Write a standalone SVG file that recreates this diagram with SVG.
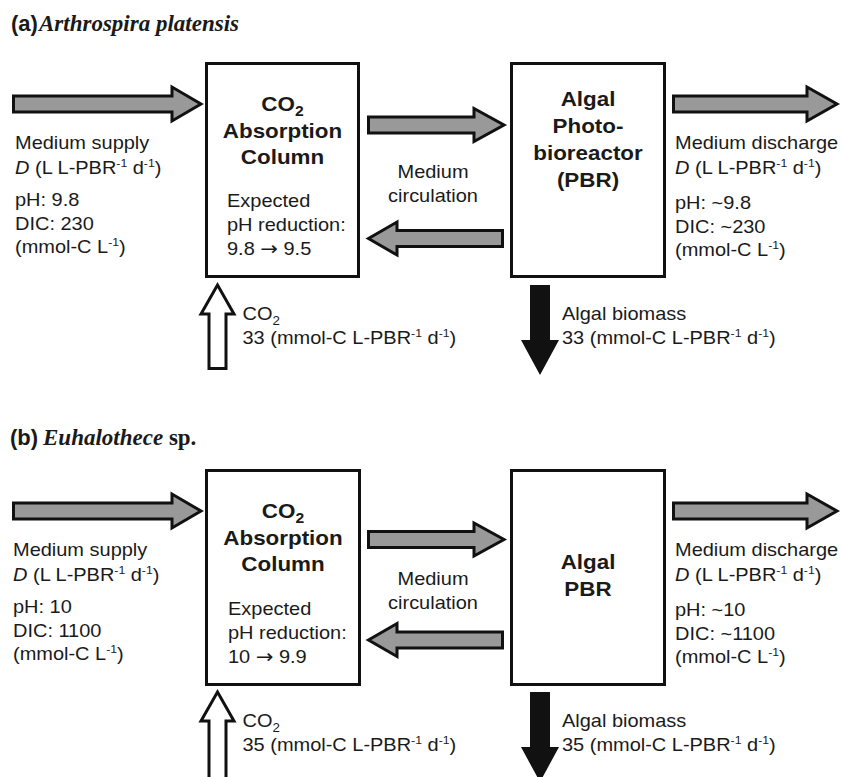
<svg xmlns="http://www.w3.org/2000/svg" width="841" height="777" viewBox="0 0 841 777">
<style>
.t{font-family:"Liberation Sans",Arial,sans-serif;font-size:18px;fill:#1a1a1a}
.b{font-weight:bold;font-size:20px}
.sup{font-size:11px}
.sub{font-size:12px}
.subb{font-size:14px}
.arr{font-family:"DejaVu Sans",sans-serif;font-size:19px}
.ttl{font-family:"Liberation Sans",Arial,sans-serif;font-weight:bold;font-size:22px;fill:#1a1a1a}
.sp{font-family:"Liberation Serif","Times New Roman",serif;font-weight:bold;font-size:23px;fill:#1a1a1a}
.box{fill:#fff;stroke:#111;stroke-width:3}
.ga{fill:#999;stroke:#111;stroke-width:3;stroke-linejoin:miter;stroke-miterlimit:10}
.wa{fill:#fff;stroke:#111;stroke-width:3;stroke-linejoin:miter;stroke-miterlimit:10}
.ba{fill:#111;stroke:none}
</style>
<rect width="841" height="777" fill="#fff"/>

<!-- Panel (a) -->
<g id="title-a">
<text class="ttl" x="11" y="31">(a)</text>
<text class="sp" x="39" y="31" font-style="italic">Arthrospira platensis</text>
</g>
<g id="connectors-a">
<polygon class="ga" points="13.5,96 172,96 172,87 201,104 172,121 172,112 13.5,112"/>
<polygon class="ga" points="368.5,117 474,117 474,108.5 504,125 474,141.5 474,133 368.5,133"/>
<polygon class="ga" points="502.5,230.5 397,230.5 397,222 368.5,238.5 397,255 397,246.5 502.5,246.5"/>
<polygon class="ga" points="673.5,96 807,96 807,87 837,104 807,121 807,112 673.5,112"/>
<polygon class="wa" points="217.5,285 234,314 226,314 226,368.5 209,368.5 209,314 201,314"/>
<polygon class="ba" points="530,285 550,285 550,340 559,340 540,375 521,340 530,340"/>
</g>
<g id="absorption-a">
<rect class="box" x="206.5" y="63.5" width="152" height="213"/>
<text class="t b" text-anchor="middle" transform="translate(282.5,111) scale(1.12,1)">CO<tspan class="subb" dy="5">2</tspan></text>
<text class="t b" text-anchor="middle" transform="translate(282.5,138) scale(1.12,1)">Absorption</text>
<text class="t b" text-anchor="middle" transform="translate(282.5,164) scale(1.12,1)">Column</text>
<text class="t" transform="translate(227,207) scale(1.11,1)">Expected</text>
<text class="t" transform="translate(227,231) scale(1.11,1)">pH reduction:</text>
<text class="t" transform="translate(227,255) scale(1.11,1)">9.8 <tspan class="arr">→</tspan> 9.5</text>
</g>
<g id="pbr-a">
<rect class="box" x="511.5" y="63.5" width="153" height="213"/>
<text class="t b" text-anchor="middle" transform="translate(588,106) scale(1.12,1)">Algal</text>
<text class="t b" text-anchor="middle" transform="translate(588,133) scale(1.12,1)">Photo-</text>
<text class="t b" text-anchor="middle" transform="translate(588,160) scale(1.12,1)">bioreactor</text>
<text class="t b" text-anchor="middle" transform="translate(588,187) scale(1.12,1)">(PBR)</text>
</g>
<g id="labels-a">
<text class="t" transform="translate(15,149) scale(1.11,1)">Medium supply</text>
<text class="t" transform="translate(15,173.5) scale(1.11,1)"><tspan font-style="italic">D</tspan> (L L-PBR<tspan class="sup" dy="-7">-1</tspan><tspan dy="7"> d</tspan><tspan class="sup" dy="-7">-1</tspan><tspan dy="7">)</tspan></text>
<text class="t" transform="translate(15,206) scale(1.11,1)">pH: 9.8</text>
<text class="t" transform="translate(15,230) scale(1.11,1)">DIC: 230</text>
<text class="t" transform="translate(15,253) scale(1.11,1)">(mmol-C L<tspan class="sup" dy="-7">-1</tspan><tspan dy="7">)</tspan></text>
<text class="t" text-anchor="middle" transform="translate(433,178) scale(1.11,1)">Medium</text>
<text class="t" text-anchor="middle" transform="translate(433,202) scale(1.11,1)">circulation</text>
<text class="t" transform="translate(675,149) scale(1.11,1)">Medium discharge</text>
<text class="t" transform="translate(675,173.5) scale(1.11,1)"><tspan font-style="italic">D</tspan> (L L-PBR<tspan class="sup" dy="-7">-1</tspan><tspan dy="7"> d</tspan><tspan class="sup" dy="-7">-1</tspan><tspan dy="7">)</tspan></text>
<text class="t" transform="translate(675,209) scale(1.11,1)">pH: ~9.8</text>
<text class="t" transform="translate(675,233) scale(1.11,1)">DIC: ~230</text>
<text class="t" transform="translate(675,256) scale(1.11,1)">(mmol-C L<tspan class="sup" dy="-7">-1</tspan><tspan dy="7">)</tspan></text>
<text class="t" transform="translate(242.5,320) scale(1.11,1)">CO<tspan class="sub" dy="5">2</tspan></text>
<text class="t" transform="translate(242.5,344) scale(1.11,1)">33 (mmol-C L-PBR<tspan class="sup" dy="-7">-1</tspan><tspan dy="7"> d</tspan><tspan class="sup" dy="-7">-1</tspan><tspan dy="7">)</tspan></text>
<text class="t" transform="translate(562,320) scale(1.11,1)">Algal biomass</text>
<text class="t" transform="translate(562,344) scale(1.11,1)">33 (mmol-C L-PBR<tspan class="sup" dy="-7">-1</tspan><tspan dy="7"> d</tspan><tspan class="sup" dy="-7">-1</tspan><tspan dy="7">)</tspan></text>
</g>

<!-- Panel (b) -->
<g id="title-b">
<text class="ttl" x="10" y="445">(b)</text>
<text class="sp" x="43" y="445"><tspan font-style="italic">Euhalothece</tspan> sp.</text>
</g>
<g id="connectors-b">
<polygon class="ga" points="13.5,503 172,503 172,494 201,511 172,528 172,519 13.5,519"/>
<polygon class="ga" points="368.5,531.5 474,531.5 474,523 504,539.5 474,556 474,547.5 368.5,547.5"/>
<polygon class="ga" points="502.5,632 397,632 397,623.5 368.5,640 397,656.5 397,648 502.5,648"/>
<polygon class="ga" points="673.5,503 807,503 807,494 837,511 807,528 807,519 673.5,519"/>
<polygon class="wa" points="217.5,692 234,721 226,721 226,782 209,782 209,721 201,721"/>
<polygon class="ba" points="530,692 550,692 550,747 559,747 540,782 521,747 530,747"/>
</g>
<g id="absorption-b">
<rect class="box" x="206.5" y="470.5" width="153" height="214"/>
<text class="t b" text-anchor="middle" transform="translate(283,518) scale(1.12,1)">CO<tspan class="subb" dy="5">2</tspan></text>
<text class="t b" text-anchor="middle" transform="translate(283,545) scale(1.12,1)">Absorption</text>
<text class="t b" text-anchor="middle" transform="translate(283,571) scale(1.12,1)">Column</text>
<text class="t" transform="translate(228,615) scale(1.11,1)">Expected</text>
<text class="t" transform="translate(228,639) scale(1.11,1)">pH reduction:</text>
<text class="t" transform="translate(228,663) scale(1.11,1)">10 <tspan class="arr">→</tspan> 9.9</text>
</g>
<g id="pbr-b">
<rect class="box" x="511.5" y="470.5" width="153" height="214"/>
<text class="t b" text-anchor="middle" transform="translate(588,569) scale(1.12,1)">Algal</text>
<text class="t b" text-anchor="middle" transform="translate(588,596) scale(1.12,1)">PBR</text>
</g>
<g id="labels-b">
<text class="t" transform="translate(13,556) scale(1.11,1)">Medium supply</text>
<text class="t" transform="translate(13,580.5) scale(1.11,1)"><tspan font-style="italic">D</tspan> (L L-PBR<tspan class="sup" dy="-7">-1</tspan><tspan dy="7"> d</tspan><tspan class="sup" dy="-7">-1</tspan><tspan dy="7">)</tspan></text>
<text class="t" transform="translate(13,613) scale(1.11,1)">pH: 10</text>
<text class="t" transform="translate(13,637) scale(1.11,1)">DIC: 1100</text>
<text class="t" transform="translate(13,660) scale(1.11,1)">(mmol-C L<tspan class="sup" dy="-7">-1</tspan><tspan dy="7">)</tspan></text>
<text class="t" text-anchor="middle" transform="translate(433,585) scale(1.11,1)">Medium</text>
<text class="t" text-anchor="middle" transform="translate(433,609) scale(1.11,1)">circulation</text>
<text class="t" transform="translate(675,556) scale(1.11,1)">Medium discharge</text>
<text class="t" transform="translate(675,580.5) scale(1.11,1)"><tspan font-style="italic">D</tspan> (L L-PBR<tspan class="sup" dy="-7">-1</tspan><tspan dy="7"> d</tspan><tspan class="sup" dy="-7">-1</tspan><tspan dy="7">)</tspan></text>
<text class="t" transform="translate(675,616) scale(1.11,1)">pH: ~10</text>
<text class="t" transform="translate(675,640) scale(1.11,1)">DIC: ~1100</text>
<text class="t" transform="translate(675,663) scale(1.11,1)">(mmol-C L<tspan class="sup" dy="-7">-1</tspan><tspan dy="7">)</tspan></text>
<text class="t" transform="translate(242.5,727) scale(1.11,1)">CO<tspan class="sub" dy="5">2</tspan></text>
<text class="t" transform="translate(242.5,751) scale(1.11,1)">35 (mmol-C L-PBR<tspan class="sup" dy="-7">-1</tspan><tspan dy="7"> d</tspan><tspan class="sup" dy="-7">-1</tspan><tspan dy="7">)</tspan></text>
<text class="t" transform="translate(562,727) scale(1.11,1)">Algal biomass</text>
<text class="t" transform="translate(562,751) scale(1.11,1)">35 (mmol-C L-PBR<tspan class="sup" dy="-7">-1</tspan><tspan dy="7"> d</tspan><tspan class="sup" dy="-7">-1</tspan><tspan dy="7">)</tspan></text>
</g>
</svg>
